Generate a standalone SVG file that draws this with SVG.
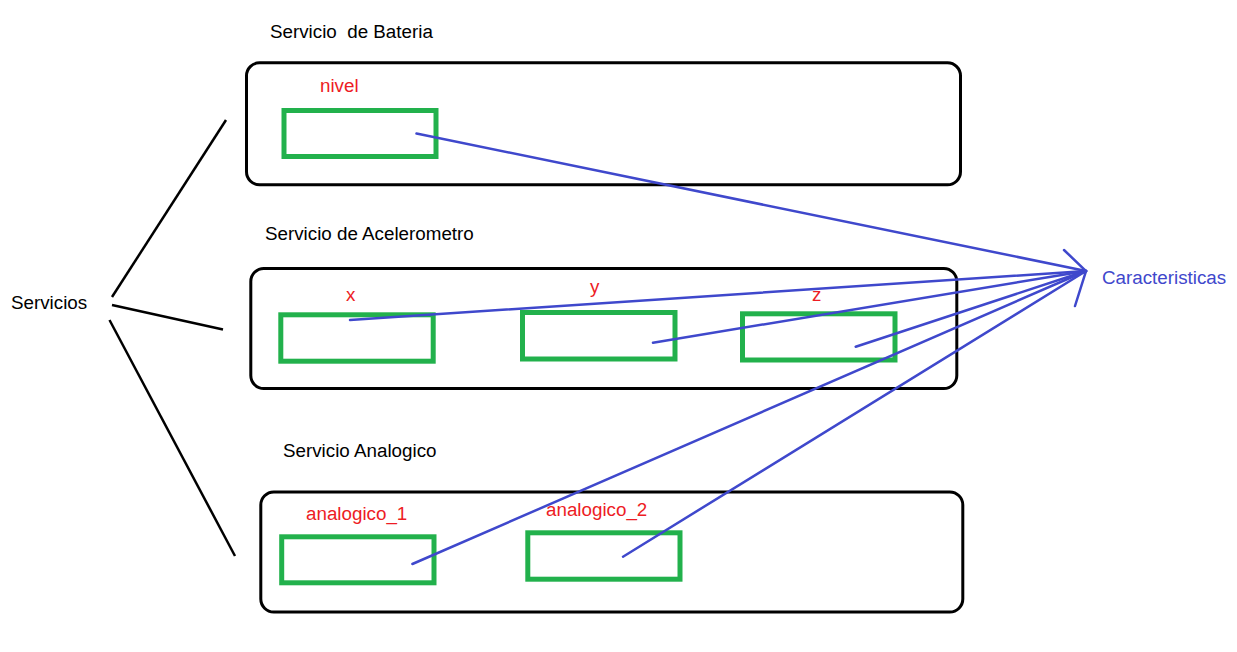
<svg xmlns="http://www.w3.org/2000/svg" width="1237" height="652" viewBox="0 0 1237 652">
<style>
text{font-family:"Liberation Sans",Arial,sans-serif;font-size:18.8px}
.t{fill:#000}
.r{fill:#ed1c24}
.b{fill:#3f48cc}
.svc{fill:none;stroke:#000;stroke-width:3}
.ch{fill:none;stroke:#22b14c;stroke-width:5}
.bl{fill:none;stroke:#3f48cc;stroke-width:2.5;stroke-linecap:round}
.k{fill:none;stroke:#000;stroke-width:2.5}
</style>
<rect width="1237" height="652" fill="#fff"/>
<g id="servicios"><text class="t" x="11" y="309">Servicios</text></g>
<g id="caracteristicas"><text class="b" x="1102" y="284">Caracteristicas</text></g>
<g id="bateria">
<text class="t" x="270" y="38" xml:space="preserve">Servicio  de Bateria</text>
<rect class="svc" x="246.5" y="62.8" width="714" height="122" rx="13"/>
<g id="nivel"><text class="r" x="320" y="92">nivel</text>
<rect class="ch" x="284" y="110.5" width="152" height="46"/></g>
</g>
<g id="acelerometro">
<text class="t" x="265" y="240">Servicio de Acelerometro</text>
<rect class="svc" x="250.8" y="268.5" width="706" height="120" rx="13"/>
<g id="x"><text class="r" x="346" y="301">x</text>
<rect class="ch" x="280.8" y="314.8" width="152.4" height="46.4"/></g>
<g id="y"><text class="r" x="590" y="293">y</text>
<rect class="ch" x="522.5" y="312.5" width="152.5" height="46.5"/></g>
<g id="z"><text class="r" x="812" y="300.5">z</text>
<rect class="ch" x="742.5" y="313.8" width="152.5" height="46.2"/></g>
</g>
<g id="analogico">
<text class="t" x="283" y="457">Servicio Analogico</text>
<rect class="svc" x="260.8" y="492" width="702" height="120" rx="13"/>
<g id="analogico_1"><text class="r" x="306" y="520">analogico_1</text>
<rect class="ch" x="281.7" y="536.8" width="152.3" height="46"/></g>
<g id="analogico_2"><text class="r" x="546" y="516">analogico_2</text>
<rect class="ch" x="527.8" y="532.8" width="152.2" height="46.4"/></g>
</g>
<g id="connectors">
<line class="k" x1="112" y1="297" x2="226" y2="120"/>
<line class="k" x1="112" y1="305" x2="223" y2="329.5"/>
<line class="k" x1="109.5" y1="320" x2="235" y2="556"/>
<line class="bl" x1="416.5" y1="133.5" x2="1086" y2="271"/>
<line class="bl" x1="350" y1="320" x2="1086" y2="271"/>
<line class="bl" x1="653" y1="342.7" x2="1086" y2="271"/>
<line class="bl" x1="855.7" y1="346.7" x2="1086" y2="271"/>
<line class="bl" x1="412.4" y1="564" x2="1086" y2="271"/>
<line class="bl" x1="623" y1="556.7" x2="1086" y2="271"/>
<polyline class="bl" points="1064,250 1086,271 1075,306"/>
</g>
</svg>
